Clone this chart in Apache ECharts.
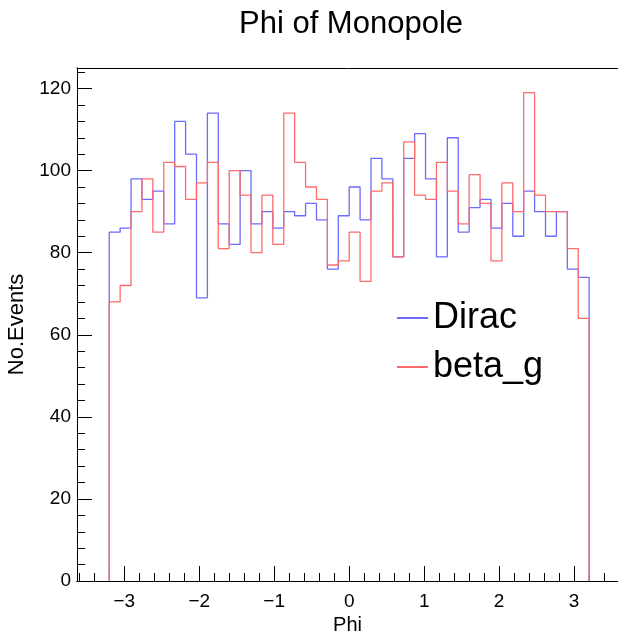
<!DOCTYPE html>
<html>
<head>
<meta charset="utf-8">
<script src="https://cdn.jsdelivr.net/npm/echarts@6/dist/echarts.min.js"></script>
<style>html,body{margin:0;padding:0;background:#fff;}#c{width:618px;height:633px;}</style>
</head>
<body>
<div id="c"></div>
<script>
// Histogram definition: 44 bins over [-3.2, 3.2]
const histMin = -3.2;
const histMax = 3.2;
const nBins = 44;
const dirac = [85, 86, 98, 93, 95, 87, 112, 104, 69, 114, 87, 82, 100, 87, 90, 86, 90, 89, 92, 88, 76, 89,
               96, 88, 103, 98, 79, 103, 109, 98, 79, 108, 85, 91, 93, 86, 92, 84, 95, 90, 84, 90, 76, 74];
const betaG = [68, 72, 90, 98, 85, 102, 101, 93, 97, 102, 81, 100, 94, 80, 94, 82, 114, 102, 96, 93, 77, 78,
               85, 73, 95, 97, 79, 107, 94, 93, 102, 95, 87, 99, 92, 78, 97, 90, 119, 94, 90, 90, 81, 64];
const xMajorTicks = [-3, -2, -1, 0, 1, 2, 3];
const xMinorTicks = [-3.6, -3.4, -3.2, -2.8, -2.6, -2.4, -2.2, -1.8, -1.6, -1.4, -1.2, -0.8, -0.6, -0.4, -0.2,
                     0.2, 0.4, 0.6, 0.8, 1.2, 1.4, 1.6, 1.8, 2.2, 2.4, 2.6, 2.8, 3.2, 3.4];
const yMajorTicks = [0, 20, 40, 60, 80, 100, 120];
const yMinorTicks = [4, 8, 12, 16, 24, 28, 32, 36, 44, 48, 52, 56, 64, 68, 72, 76, 84, 88, 92, 96, 104, 108, 112, 116, 124];

function stepData(vals) {
  const w = (histMax - histMin) / nBins;
  const d = [[histMin, 0]];
  for (let i = 0; i < vals.length; i++) d.push([histMin + i * w, vals[i]]);
  d.push([histMax, vals[vals.length - 1]]);
  d.push([histMax, 0]);
  return d;
}

const FONT = '"Liberation Sans", Arial, Helvetica, sans-serif';
const fmtMinus = v => String(v).replace('-', '\u2212');
const chart = echarts.init(document.getElementById('c'), null, {renderer: 'canvas'});
const X_MIN = -3.63, X_MAX = 3.585;
const xBase = {
  type: 'value', min: X_MIN, max: X_MAX, position: 'bottom',
  splitLine: {show: false},
  axisLine: {show: true, onZero: false, lineStyle: {color: '#000', width: 1}}
};
const yBase = {
  type: 'value', min: 0, max: 125, position: 'left',
  splitLine: {show: false},
  axisLine: {show: true, onZero: false, lineStyle: {color: '#000', width: 1}}
};
chart.setOption({
  animation: false,
  backgroundColor: '#fff',
  title: {
    text: 'Phi of Monopole', left: 346, top: 4, textAlign: 'center',
    textStyle: {fontFamily: FONT, fontSize: 31, fontWeight: 'normal', color: '#000'}
  },
  grid: {left: 77, right: 0, top: 68, bottom: 52, show: false, containLabel: false, outerBoundsMode: 'none'},
  legend: {
    orient: 'vertical', left: 392, top: 295, itemWidth: 31, itemHeight: 2, itemGap: 13,
    icon: 'rect', itemStyle: {borderWidth: 0},
    textStyle: {fontFamily: FONT, fontSize: 36, color: '#000'},
    data: ['Dirac', 'beta_g']
  },
  xAxis: [
    Object.assign({}, xBase, {
      name: 'Phi', nameLocation: 'middle', nameGap: 27,
      nameTextStyle: {fontFamily: FONT, fontSize: 20, color: '#000'},
      axisTick: {show: true, inside: true, length: 15, customValues: xMajorTicks, lineStyle: {color: '#000'}},
      axisLabel: {show: true, customValues: xMajorTicks, formatter: fmtMinus, margin: 11,
                  fontFamily: FONT, fontSize: 19, color: '#000'}
    }),
    Object.assign({}, xBase, {
      axisTick: {show: true, inside: true, length: 8, customValues: xMinorTicks, lineStyle: {color: '#000'}},
      axisLabel: {show: false}
    }),
    Object.assign({}, xBase, {
      position: 'top', axisTick: {show: false}, axisLabel: {show: false}
    })
  ],
  yAxis: [
    Object.assign({}, yBase, {
      name: 'No.Events', nameLocation: 'middle', nameGap: 47, nameRotate: 90,
      nameTextStyle: {fontFamily: FONT, fontSize: 22, color: '#000'},
      axisTick: {show: true, inside: true, length: 15, customValues: yMajorTicks, lineStyle: {color: '#000'}},
      axisLabel: {show: true, customValues: yMajorTicks, margin: 6, fontFamily: FONT, fontSize: 19, color: '#000'}
    }),
    Object.assign({}, yBase, {
      axisTick: {show: true, inside: true, length: 8, customValues: yMinorTicks, lineStyle: {color: '#000'}},
      axisLabel: {show: false}
    })
  ],
  series: [
    {
      name: 'Dirac', type: 'line', step: 'end', symbol: 'none', xAxisIndex: 0, yAxisIndex: 0,
      data: stepData(dirac), lineStyle: {color: '#6b6bff', width: 1.3}, itemStyle: {color: '#6b6bff'}
    },
    {
      name: 'beta_g', type: 'line', step: 'end', symbol: 'none', xAxisIndex: 0, yAxisIndex: 0,
      data: stepData(betaG), lineStyle: {color: '#ff6b6b', width: 1.3}, itemStyle: {color: '#ff6b6b'}
    }
  ]
});
</script>
</body>
</html>
